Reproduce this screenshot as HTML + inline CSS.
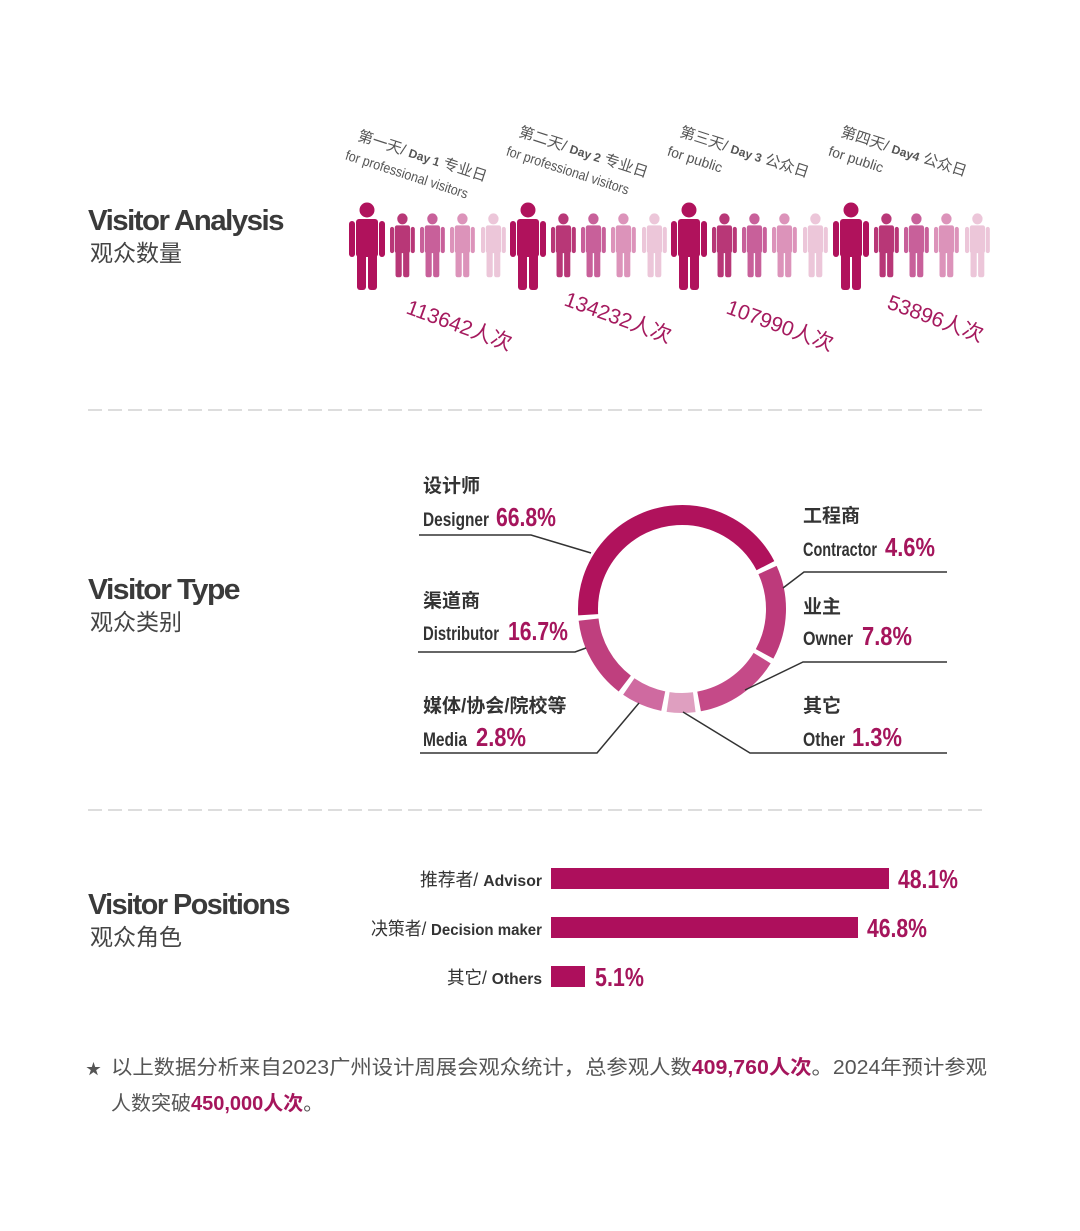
<!DOCTYPE html>
<html><head><meta charset="utf-8"><style>
html,body{margin:0;padding:0;background:#fff;}
svg{display:block}
.t{font-family:"Liberation Sans","Noto Sans CJK SC",sans-serif;}
.c{font-family:"Liberation Sans Narrow","Liberation Sans","Noto Sans CJK SC",sans-serif;}
</style></head><body>
<svg width="1080" height="1231" viewBox="0 0 1080 1231" xmlns="http://www.w3.org/2000/svg">
<defs>
<g id="p">
<circle cx="18" cy="8" r="7.5"/>
<rect x="0" y="19" width="6" height="36" rx="3"/>
<rect x="30" y="19" width="6" height="36" rx="3"/>
<rect x="7" y="17" width="22" height="38" rx="3"/>
<rect x="8" y="50" width="9" height="38" rx="3"/>
<rect x="19" y="50" width="9" height="38" rx="3"/>
</g>
</defs>

<!-- Section titles -->
<g class="t" fill="#3a3a3a">
<text x="88" y="230" font-size="29" font-weight="bold" letter-spacing="-1.5" textLength="195" lengthAdjust="spacingAndGlyphs">Visitor Analysis</text>
<text x="90" y="261" font-size="23" fill="#444">观众数量</text>
<text x="88" y="599" font-size="29" font-weight="bold" letter-spacing="-1.5" textLength="151" lengthAdjust="spacingAndGlyphs">Visitor Type</text>
<text x="90" y="630" font-size="23" fill="#444">观众类别</text>
<text x="88" y="914" font-size="29" font-weight="bold" letter-spacing="-1.5" textLength="201" lengthAdjust="spacingAndGlyphs">Visitor Positions</text>
<text x="90" y="945" font-size="23" fill="#444">观众角色</text>
</g>

<!-- People -->
<g id="grp">
<use href="#p" transform="translate(349,202)" fill="#b0125c"/>
<use href="#p" transform="translate(390,213) scale(0.69,0.73)" fill="#b83777"/>
<use href="#p" transform="translate(420,213) scale(0.69,0.73)" fill="#c8609a"/>
<use href="#p" transform="translate(450,213) scale(0.69,0.73)" fill="#dc93ba"/>
<use href="#p" transform="translate(481,213) scale(0.69,0.73)" fill="#ecc6d9"/>
</g>
<use href="#grp" transform="translate(161,0)"/>
<use href="#grp" transform="translate(322,0)"/>
<use href="#grp" transform="translate(484,0)"/>

<!-- Day labels -->
<g class="c" fill="#555">
<g transform="translate(357,140) rotate(18)"><text font-size="15">第一天/ <tspan font-weight="bold" font-size="12">Day 1</tspan> 专业日</text><text x="-6" y="22" font-size="14" textLength="128" lengthAdjust="spacingAndGlyphs">for professional visitors</text></g>
<g transform="translate(518,136) rotate(18)"><text font-size="15">第二天/ <tspan font-weight="bold" font-size="12">Day 2</tspan> 专业日</text><text x="-6" y="22" font-size="14" textLength="128" lengthAdjust="spacingAndGlyphs">for professional visitors</text></g>
<g transform="translate(679,136) rotate(18)"><text font-size="15">第三天/ <tspan font-weight="bold" font-size="12">Day 3</tspan> 公众日</text><text x="-6" y="22" font-size="14">for public</text></g>
<g transform="translate(840,136) rotate(18)"><text font-size="15">第四天/ <tspan font-weight="bold" font-size="12">Day4</tspan>  公众日</text><text x="-6" y="22" font-size="14">for public</text></g>
</g>
<g class="t" fill="#a51a5e" font-size="21">
<text transform="translate(405,313) rotate(20)">113642人次</text>
<text transform="translate(563,305) rotate(20)">134232人次</text>
<text transform="translate(725,313) rotate(20)">107990人次</text>
<text transform="translate(886,308) rotate(20)">53896人次</text>
</g>

<!-- dashed separators -->
<line x1="88" y1="410" x2="986" y2="410" stroke="#bbb" stroke-width="1" stroke-dasharray="14,6"/>
<line x1="88" y1="810" x2="986" y2="810" stroke="#bbb" stroke-width="1" stroke-dasharray="14,6"/>

<!-- Donut -->
<g fill="none" stroke-width="20" transform="translate(682,609)">
<circle r="94" stroke="#b0125c" stroke-dasharray="255.9 1000" transform="rotate(176.5)"/>
<circle r="94" stroke="#bd3a7b" stroke-dasharray="86.95 1000" transform="rotate(-24.5)"/>
<circle r="94" stroke="#c54a88" stroke-dasharray="78.75 1000" transform="rotate(31.5)"/>
<circle r="94" stroke="#df9fc0" stroke-dasharray="26.25 1000" transform="rotate(82.5)"/>
<circle r="94" stroke="#cf6aa0" stroke-dasharray="37.7 1000" transform="rotate(101.5)"/>
<circle r="94" stroke="#bf3f7e" stroke-dasharray="75.5 1000" transform="rotate(127.5)"/>
</g>
<g fill="none" stroke="#333" stroke-width="1.5">
<polyline points="419,535 531,535 591,553"/>
<polyline points="947,572 804,572 783,588"/>
<polyline points="418,652 575,652 586,648"/>
<polyline points="947,662 803,662 745,690"/>
<polyline points="420,753 597,753 639,703"/>
<polyline points="947,753 750,753 683,712"/>
</g>
<g class="c">
<g font-size="19" font-weight="bold" fill="#333">
<text x="423" y="492">设计师</text>
<text x="803" y="522">工程商</text>
<text x="423" y="607">渠道商</text>
<text x="803" y="613">业主</text>
<text x="423" y="712">媒体/协会/院校等</text>
<text x="803" y="712">其它</text>
</g>
<g font-size="19" font-weight="bold" fill="#333" lengthAdjust="spacingAndGlyphs">
<text x="423" y="526" textLength="66" lengthAdjust="spacingAndGlyphs">Designer</text>
<text x="803" y="556" textLength="74" lengthAdjust="spacingAndGlyphs">Contractor</text>
<text x="423" y="640" textLength="76" lengthAdjust="spacingAndGlyphs">Distributor</text>
<text x="803" y="645" textLength="50" lengthAdjust="spacingAndGlyphs">Owner</text>
<text x="423" y="746" textLength="44" lengthAdjust="spacingAndGlyphs">Media</text>
<text x="803" y="746" textLength="42" lengthAdjust="spacingAndGlyphs">Other</text>
</g>
<g font-size="26" font-weight="bold" fill="#a5155c">
<text x="496" y="526" textLength="60" lengthAdjust="spacingAndGlyphs">66.8%</text>
<text x="885" y="556" textLength="50" lengthAdjust="spacingAndGlyphs">4.6%</text>
<text x="508" y="640" textLength="60" lengthAdjust="spacingAndGlyphs">16.7%</text>
<text x="862" y="645" textLength="50" lengthAdjust="spacingAndGlyphs">7.8%</text>
<text x="476" y="746" textLength="50" lengthAdjust="spacingAndGlyphs">2.8%</text>
<text x="852" y="746" textLength="50" lengthAdjust="spacingAndGlyphs">1.3%</text>
</g>
</g>

<!-- Bars -->
<rect x="551" y="868" width="338" height="21" fill="#ad0f5c"/>
<rect x="551" y="917" width="307" height="21" fill="#ad0f5c"/>
<rect x="551" y="966" width="34" height="21" fill="#ad0f5c"/>
<g class="c" fill="#333">
<text x="420" y="886" font-size="18" textLength="122" lengthAdjust="spacingAndGlyphs">推荐者/ <tspan font-weight="bold" font-size="16">Advisor</tspan></text>
<text x="371" y="935" font-size="18" textLength="171" lengthAdjust="spacingAndGlyphs">决策者/ <tspan font-weight="bold" font-size="16">Decision maker</tspan></text>
<text x="447" y="984" font-size="18" textLength="95" lengthAdjust="spacingAndGlyphs">其它/ <tspan font-weight="bold" font-size="16">Others</tspan></text>
</g>
<g class="c" font-size="26" font-weight="bold" fill="#a5155c">
<text x="898" y="888" textLength="60" lengthAdjust="spacingAndGlyphs">48.1%</text>
<text x="867" y="937" textLength="60" lengthAdjust="spacingAndGlyphs">46.8%</text>
<text x="595" y="986" textLength="49" lengthAdjust="spacingAndGlyphs">5.1%</text>
</g>

<!-- Footnote -->
<g class="t" font-size="20" fill="#555">
<text x="86" y="1074" font-size="15">★</text>
<text x="111" y="1074" textLength="876" lengthAdjust="spacingAndGlyphs">以上数据分析来自2023广州设计周展会观众统计，总参观人数<tspan fill="#a5155c" font-weight="bold">409,760人次</tspan>。2024年预计参观</text>
<text x="111" y="1110">人数突破<tspan fill="#a5155c" font-weight="bold">450,000人次</tspan>。</text>
</g>
</svg>
</body></html>
